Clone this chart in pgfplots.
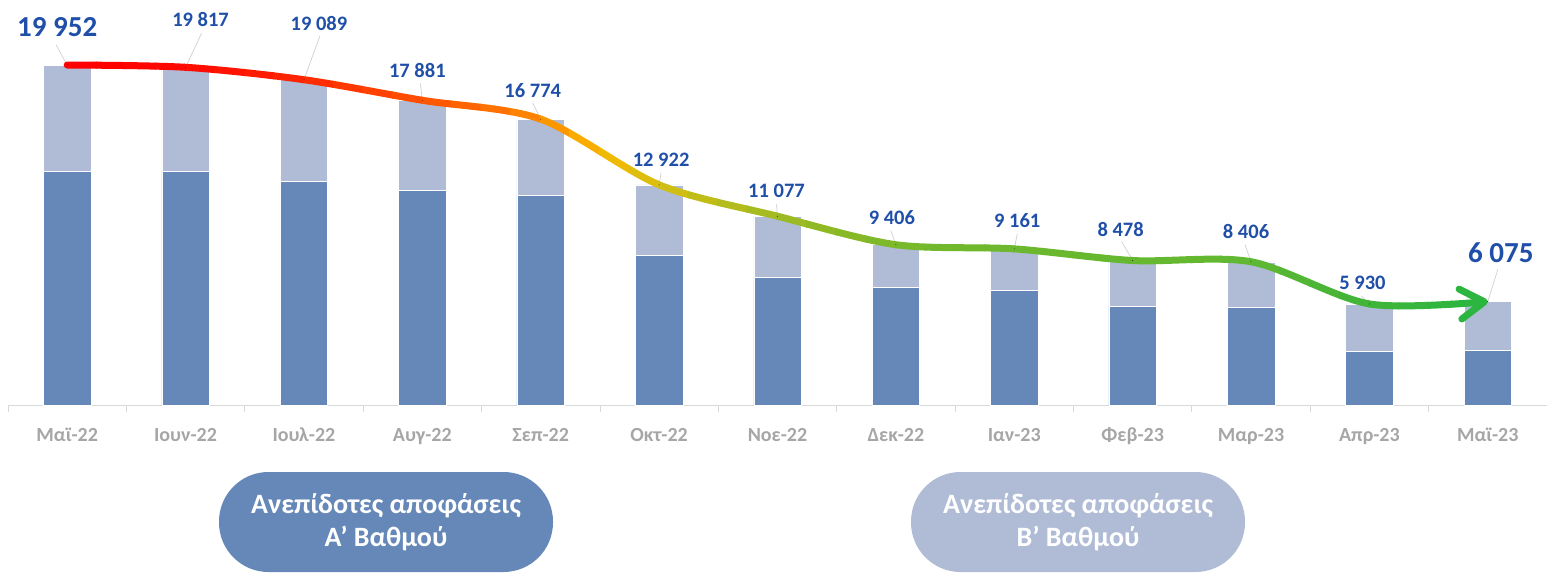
\documentclass[border=0pt]{standalone}
\usepackage{fontspec}
\setmainfont{Carlito}
\usepackage{pgfplots}
\usepackage{pgfplotstable}
\pgfplotsset{compat=1.18}
\usetikzlibrary{arrows.meta}

\definecolor{darkbar}{HTML}{6688B8}
\definecolor{lightbar}{HTML}{B0BCD6}
\definecolor{lab}{HTML}{1F4FA8}
\definecolor{tickc}{HTML}{A6A6A6}
\definecolor{axisgray}{HTML}{D9D9D9}
\definecolor{leader}{HTML}{D0D0D0}
\definecolor{c0}{HTML}{FF0000}
\definecolor{c1}{HTML}{FF0300}
\definecolor{c2}{HTML}{FF0A00}
\definecolor{c3}{HTML}{FF1700}
\definecolor{c4}{HTML}{FF2800}
\definecolor{c5}{HTML}{FF3C00}
\definecolor{c6}{HTML}{FF5200}
\definecolor{c7}{HTML}{FF6A00}
\definecolor{c8}{HTML}{FF8C00}
\definecolor{c9}{HTML}{F7B800}
\definecolor{c10}{HTML}{D6BF10}
\definecolor{c11}{HTML}{BABD1A}
\definecolor{c12}{HTML}{A0BA22}
\definecolor{c13}{HTML}{8CB926}
\definecolor{c14}{HTML}{7AB82A}
\definecolor{c15}{HTML}{70B82C}
\definecolor{c16}{HTML}{6CB82E}
\definecolor{c17}{HTML}{68B82E}
\definecolor{c18}{HTML}{66B830}
\definecolor{c19}{HTML}{64B830}
\definecolor{c20}{HTML}{60B832}
\definecolor{c21}{HTML}{50B636}
\definecolor{c22}{HTML}{40B43A}
\definecolor{c23}{HTML}{34B53C}
\definecolor{c24}{HTML}{2AB540}

\pgfplotstableread[col sep=comma]{
x,dark,light,total,dx,dy,lx,ly,fs,lab
0,13731,6221,19952,-10,38,-11,20,29,19 952
1,13731,6086,19817,15,48,16,34,20.5,19 817
2,13127,5962,19089,15,56,16,44,20.5,19 089
3,12616,5265,17881,-5,30,-2,17,20.5,17 881
4,12323,4451,16774,-8,29,-8,16,20.5,16 774
5,8802,4120,12922,2,25,2,12,20.5,12 922
6,7493,3584,11077,-1,25,-1,12,20.5,11 077
7,6924,2482,9406,-4,27,-5,14,20.5,9 406
8,6748,2413,9161,3,28,3,15,20.5,9 161
9,5809,2669,8478,-12,31,-11,19,20.5,8 478
10,5733,2673,8406,-5,30,-6,17,20.5,8 406
11,3128,2802,5930,-7,21,-8,8,20.5,5 930
12,3186,2889,6075,13,49,10,32,29,6 075
}\data

\pgfplotsset{base/.style={at={(8pt,169pt)}, anchor=south west, scale only axis,
  width=1539pt, height=405pt, xmin=-0.5, xmax=12.5, ymin=0, ymax=23767}}

% one clipped strip of the gradient curve, drawn as its own axis
\newcommand\seg[4][]{%
  \pgfmathsetmacro\segx{8+(#2+0.5)*118.384615}%
  \pgfmathsetmacro\segw{(#3-#2)*118.384615}%
  \begin{axis}[at={(\segx pt,169pt)}, anchor=south west, scale only axis,
    width=\segw pt, height=405pt, xmin=#2, xmax=#3, ymin=0, ymax=23767,
    hide axis, clip=true]
    \addplot[smooth, no marks, line width=7pt, line cap=round, line join=round, color=#4, #1]
      table[x=x,y=total]{\data};
  \end{axis}}

\begin{document}
\begin{tikzpicture}
\begin{axis}[base,
  ybar stacked, bar width=47.5pt,
  axis x line*=bottom, axis y line=none,
  x axis line style={draw=axisgray, line width=0.8pt, -},
  xtick={0,...,12},
  xticklabels={Μαϊ-22,Ιουν-22,Ιουλ-22,Αυγ-22,Σεπ-22,Οκτ-22,Νοε-22,Δεκ-22,Ιαν-23,Φεβ-23,Μαρ-23,Απρ-23,Μαϊ-23},
  major tick length=0pt,
  minor xtick={-0.5,0.5,...,12.5},
  minor tick length=7pt, xtick align=outside,
  minor tick style={draw=axisgray, line width=0.8pt},
  xticklabel style={font=\fontsize{20}{24}\bfseries\selectfont, text=tickc, anchor=base, yshift=-36pt},
  ytick=\empty,
  clip=false,
]
\addplot[fill=darkbar, draw=white, line width=0.5pt] table[x=x,y=dark]{\data};
\addplot[fill=lightbar, draw=white, line width=0.5pt] table[x=x,y=light]{\data};
\end{axis}

% leader lines
\begin{axis}[base, hide axis, clip=false]
\addplot[quiver={u=\thisrow{lx}/118.384615, v=\thisrow{ly}*58.684}, draw=leader, line width=0.7pt]
  table[x=x,y=total]{\data};
\end{axis}

% gradient curve
\seg{-1}{0.25}{c0!75!c1}
\seg{0.24}{0.5}{c0!25!c1}
\seg{0.49}{0.75}{c1!75!c2}
\seg{0.74}{1}{c1!25!c2}
\seg{0.99}{1.25}{c2!75!c3}
\seg{1.24}{1.5}{c2!25!c3}
\seg{1.49}{1.75}{c3!75!c4}
\seg{1.74}{2}{c3!25!c4}
\seg{1.99}{2.25}{c4!75!c5}
\seg{2.24}{2.5}{c4!25!c5}
\seg{2.49}{2.75}{c5!75!c6}
\seg{2.74}{3}{c5!25!c6}
\seg{2.99}{3.25}{c6!75!c7}
\seg{3.24}{3.5}{c6!25!c7}
\seg{3.49}{3.75}{c7!75!c8}
\seg{3.74}{4}{c7!25!c8}
\seg{3.99}{4.25}{c8!75!c9}
\seg{4.24}{4.5}{c8!25!c9}
\seg{4.49}{4.75}{c9!75!c10}
\seg{4.74}{5}{c9!25!c10}
\seg{4.99}{5.25}{c10!75!c11}
\seg{5.24}{5.5}{c10!25!c11}
\seg{5.49}{5.75}{c11!75!c12}
\seg{5.74}{6}{c11!25!c12}
\seg{5.99}{6.25}{c12!75!c13}
\seg{6.24}{6.5}{c12!25!c13}
\seg{6.49}{6.75}{c13!75!c14}
\seg{6.74}{7}{c13!25!c14}
\seg{6.99}{7.25}{c14!75!c15}
\seg{7.24}{7.5}{c14!25!c15}
\seg{7.49}{7.75}{c15!75!c16}
\seg{7.74}{8}{c15!25!c16}
\seg{7.99}{8.25}{c16!75!c17}
\seg{8.24}{8.5}{c16!25!c17}
\seg{8.49}{8.75}{c17!75!c18}
\seg{8.74}{9}{c17!25!c18}
\seg{8.99}{9.25}{c18!75!c19}
\seg{9.24}{9.5}{c18!25!c19}
\seg{9.49}{9.75}{c19!75!c20}
\seg{9.74}{10}{c19!25!c20}
\seg{9.99}{10.25}{c20!75!c21}
\seg{10.24}{10.5}{c20!25!c21}
\seg{10.49}{10.75}{c21!75!c22}
\seg{10.74}{11}{c21!25!c22}
\seg{10.99}{11.25}{c22!75!c23}
\seg{11.24}{11.5}{c22!25!c23}
\seg{11.49}{11.7}{c23!75!c24}
\seg[-{Straight Barb[length=24pt,width=30pt,round]}]{11.69}{13}{c23!25!c24}

% value labels
\begin{axis}[base, hide axis, clip=false]
\addplot[only marks, mark=*, mark size=0.1pt, mark options={draw=none,fill=none},
  point meta=explicit symbolic,
  visualization depends on={\thisrow{dx} \as \dxv},
  visualization depends on={\thisrow{dy} \as \dyv},
  visualization depends on={\thisrow{fs} \as \fsv},
  nodes near coords,
  every node near coord/.style={anchor=center, xshift=\dxv pt, yshift=\dyv pt,
    font=\fontsize{\fsv}{\fsv}\bfseries\selectfont, text=lab, inner sep=0pt}]
  table[x=x,y=total,meta=lab]{\data};
\end{axis}

\node[fill=darkbar, rounded corners=49.5pt, minimum width=334pt, minimum height=100pt,
  text=white, align=center, font=\fontsize{28}{33}\bfseries\selectfont, inner sep=0pt]
  at (386pt,52pt) {Ανεπίδοτες αποφάσεις\\Α’ Βαθμού};
\node[fill=lightbar, rounded corners=49.5pt, minimum width=334pt, minimum height=100pt,
  text=white, align=center, font=\fontsize{28}{33}\bfseries\selectfont, inner sep=0pt]
  at (1078pt,52pt) {Ανεπίδοτες αποφάσεις\\Β’ Βαθμού};

\pgfresetboundingbox
\useasboundingbox (0,0) rectangle (1547pt,574pt);
\end{tikzpicture}
\end{document}
